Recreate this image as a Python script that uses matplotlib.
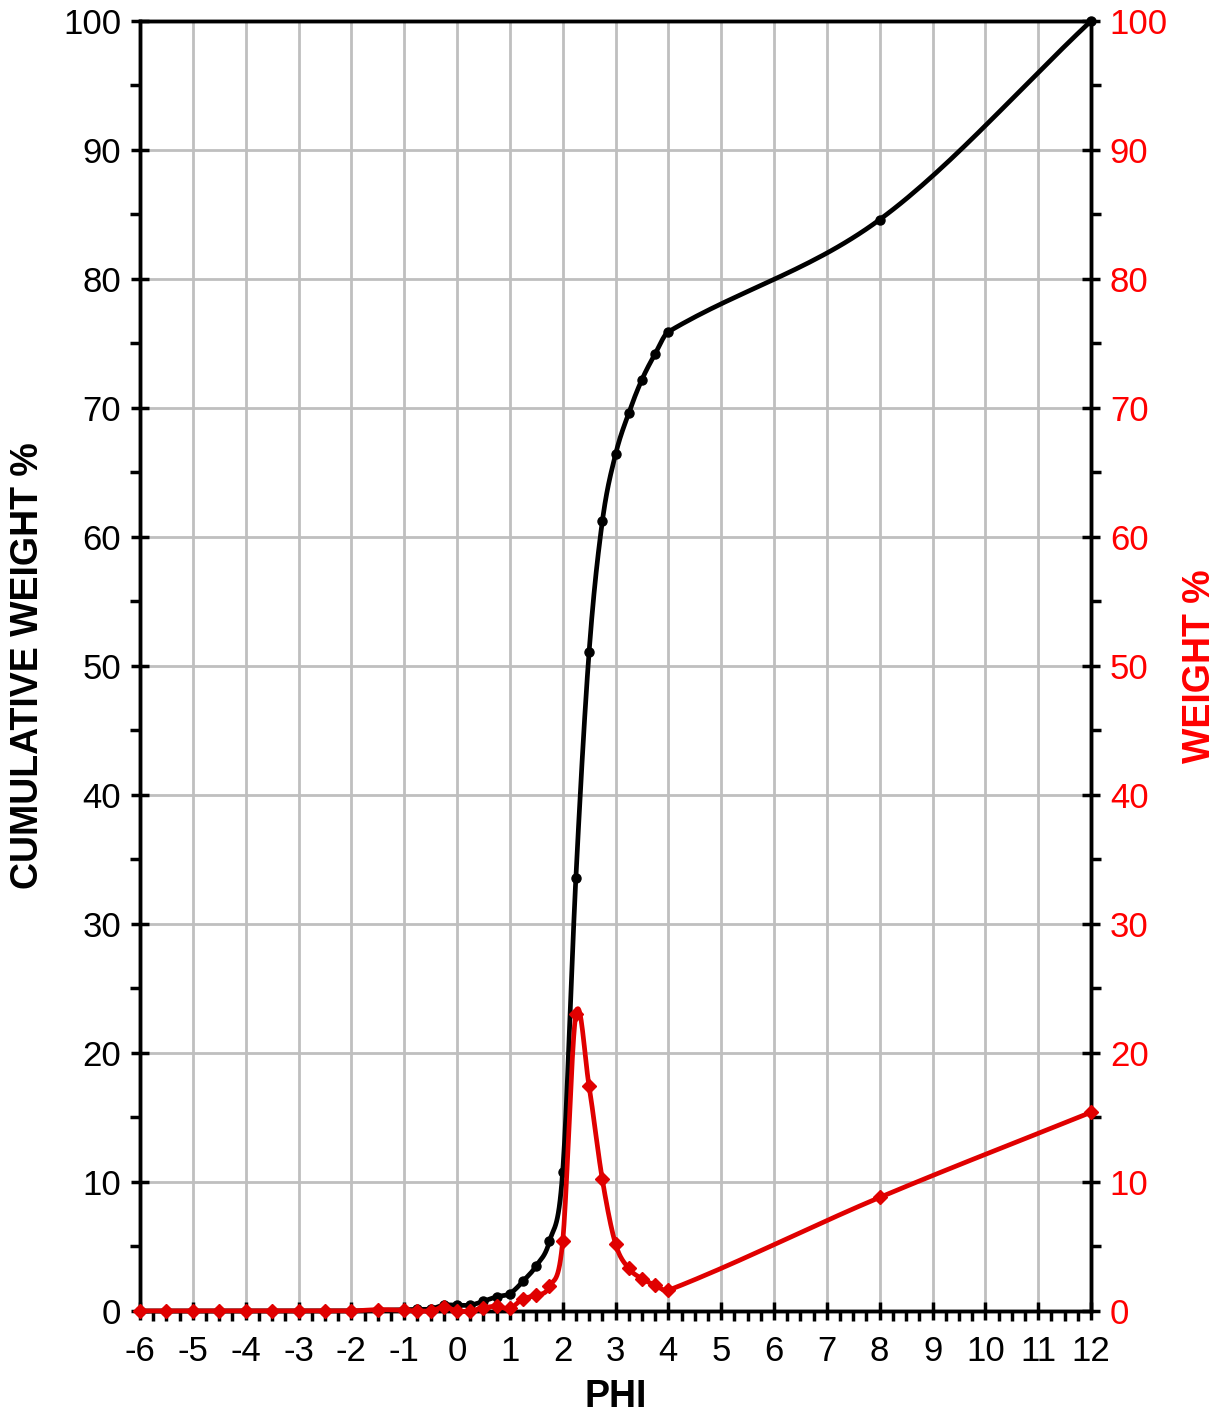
import numpy as np
import matplotlib.pyplot as plt
from matplotlib.ticker import MultipleLocator

plt.rcParams['font.family'] = ['Liberation Sans', 'DejaVu Sans']

# phi classes
phi = [-6, -5.5, -5, -4.5, -4, -3.5, -3, -2.5, -2, -1.5, -1, -0.75, -0.5, -0.25,
       0, 0.25, 0.5, 0.75, 1, 1.25, 1.5, 1.75, 2, 2.25, 2.5, 2.75, 3, 3.25, 3.5,
       3.75, 4, 8, 12]
cumulative = [0, 0, 0, 0, 0, 0, 0, 0, 0, 0.05, 0.1, 0.12, 0.15, 0.45,
              0.45, 0.45, 0.75, 1.1, 1.35, 2.3, 3.5, 5.4, 10.8, 33.6, 51.1, 61.2, 66.4, 69.6, 72.2,
              74.2, 75.9, 84.6, 100]
weight = [0, 0, 0, 0, 0, 0, 0, 0, 0, 0.1, 0.05, 0, 0, 0.3,
          0, 0, 0.25, 0.35, 0.2, 0.95, 1.2, 1.9, 5.4, 23.0, 17.4, 10.2, 5.2, 3.3, 2.5,
          2.0, 1.6, 8.8, 15.4]


def smooth(x, y, n=30):
    # cubic hermite through the points, catmull-rom style tangents
    x = np.asarray(x, float)
    y = np.asarray(y, float)
    m = np.zeros_like(y)
    m[1:-1] = (y[2:] - y[:-2]) / (x[2:] - x[:-2])
    m[0] = (y[1] - y[0]) / (x[1] - x[0])
    m[-1] = (y[-1] - y[-2]) / (x[-1] - x[-2])
    xs, ys = [], []
    for i in range(len(x) - 1):
        h = x[i + 1] - x[i]
        t = np.linspace(0, 1, n, endpoint=False)
        h00 = 2 * t**3 - 3 * t**2 + 1
        h10 = t**3 - 2 * t**2 + t
        h01 = -2 * t**3 + 3 * t**2
        h11 = t**3 - t**2
        xs.append(x[i] + t * h)
        ys.append(h00 * y[i] + h10 * h * m[i] + h01 * y[i + 1] + h11 * h * m[i + 1])
    xs.append([x[-1]])
    ys.append([y[-1]])
    return np.concatenate(xs), np.concatenate(ys)


fig = plt.figure(figsize=(12.22, 14.16), dpi=100)
ax = fig.add_axes([0.1146, 0.0742, 0.7782, 0.911])
ax2 = ax.twinx()

BLACK = '#000000'
RED = '#ff0000'
LINE_RED = '#e00000'

sx, sy = smooth(phi, cumulative)
ax.plot(sx, sy, color=BLACK, lw=3.4, zorder=3, clip_on=False)
ax.plot(phi, cumulative, 'o', color=BLACK, ms=6.5, zorder=4, clip_on=False)

sx, sy = smooth(phi, weight)
ax2.plot(sx, sy, color=LINE_RED, lw=3.4, zorder=3, clip_on=False)
ax2.plot(phi, weight, 'D', color=LINE_RED, ms=7, zorder=4, clip_on=False)

ax.set_xlim(-6, 12)
ax.set_ylim(0, 100)
ax2.set_ylim(0, 100)

ax.xaxis.set_major_locator(MultipleLocator(1))
ax.xaxis.set_minor_locator(MultipleLocator(0.25))
ax.yaxis.set_major_locator(MultipleLocator(10))
ax.yaxis.set_minor_locator(MultipleLocator(5))
ax2.yaxis.set_major_locator(MultipleLocator(10))
ax2.yaxis.set_minor_locator(MultipleLocator(5))

ax.grid(True, which='major', color='#bfbfbf', lw=2)
ax.set_axisbelow(True)

for a in (ax, ax2):
    for s in a.spines.values():
        s.set_linewidth(2.5)
        s.set_color(BLACK)

ax.tick_params(axis='both', which='major', direction='inout', length=13, width=2.5,
               labelsize=25, color=BLACK)
ax.tick_params(axis='both', which='minor', direction='out', length=7, width=2.5, color=BLACK)
ax.tick_params(axis='x', which='major', pad=11)
ax.tick_params(axis='y', which='major', pad=7)
ax2.tick_params(axis='y', which='major', direction='inout', length=13, width=2.5,
                labelsize=25, labelcolor=RED, color=BLACK, pad=7)
ax2.tick_params(axis='y', which='minor', direction='out', length=7, width=2.5, color=BLACK)

ax.set_xticks(np.arange(-6, 13, 1))
ax.set_xticklabels([str(v) for v in range(-6, 13)])

ax.set_xlabel('PHI', fontsize=27, fontweight='bold', labelpad=8)
ax.set_ylabel('CUMULATIVE WEIGHT %', fontsize=27, fontweight='bold', labelpad=12)
ax2.set_ylabel('WEIGHT %', fontsize=27, fontweight='bold', color=RED, labelpad=10)

fig.savefig('out.png', dpi=100)
